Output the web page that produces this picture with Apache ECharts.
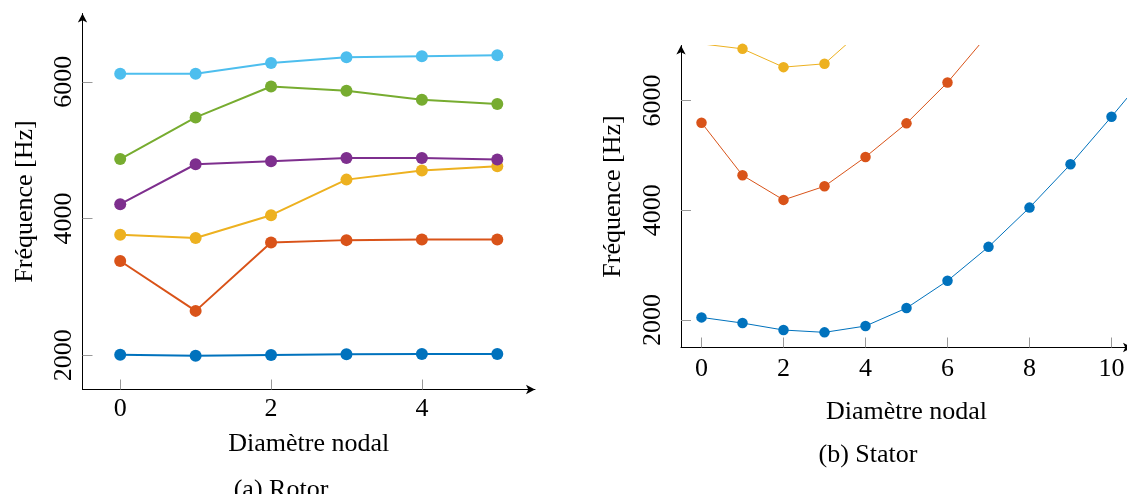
<!DOCTYPE html>
<html>
<head>
<meta charset="utf-8">
<script src="https://cdn.jsdelivr.net/npm/echarts@6/dist/echarts.min.js"></script>
<style>
html,body{margin:0;padding:0;background:#fff;overflow:hidden;}
#chart{width:1170px;height:494px;}
</style>
</head>
<body>
<div id="chart"></div>
<script>
// ---- Data ----
const rotorX = [0, 1, 2, 3, 4, 5];
const rotorBlue   = [2010, 1995, 2005, 2015, 2020, 2020];
const rotorOrange = [3380, 2650, 3650, 3685, 3695, 3695];
const rotorYellow = [3765, 3715, 4050, 4570, 4705, 4765];
const rotorPurple = [4210, 4795, 4840, 4888, 4888, 4865];
const rotorGreen  = [4870, 5480, 5932, 5870, 5740, 5675];
const rotorCyan   = [6120, 6120, 6277, 6360, 6375, 6390];

const statorX = [0, 1, 2, 3, 4, 5, 6, 7, 8, 9, 10, 11];
const statorBlue   = [2048, 1945, 1818, 1776, 1891, 2218, 2715, 3333, 4048, 4836, 5703, 6600];
const statorOrange = [5594, 4636, 4188, 4436, 4970, 5582, 6327, 7210];
const statorYellow = [7030, 6939, 6606, 6667, 7330];

const rotorXTicks = [0, 2, 4];
const statorXTicks = [0, 2, 4, 6, 8, 10];
const yTicks = [2000, 4000, 6000];

const xTitle = 'Diamètre nodal';
const yTitle = 'Fréquence [Hz]';
const captionA = '(a) Rotor';
const captionB = '(b) Stator';

const colors = {
  blue: '#0072BD', orange: '#D95319', yellow: '#EDB120',
  purple: '#7E2F8E', green: '#77AC30', cyan: '#4DBEEE'
};

const FONT = 'Liberation Serif';
const FS = 26;

function pair(xs, ys) { return ys.map((v, i) => [xs[i], v]); }

function mkSeries(idx, ys, xs, color, lw, sz) {
  return {
    type: 'line', xAxisIndex: idx, yAxisIndex: idx,
    data: pair(xs, ys),
    symbol: 'circle', symbolSize: sz, showSymbol: true,
    lineStyle: { color: color, width: lw },
    itemStyle: { color: color },
    clip: true, silent: true, animation: false
  };
}

function xAxis(idx, min, max, ticks, margin, nameGap) {
  return {
    type: 'value', gridIndex: idx, min: min, max: max,
    name: xTitle, nameLocation: 'middle', nameGap: nameGap,
    nameTextStyle: { fontFamily: FONT, fontSize: FS, color: '#000' },
    axisLine: { show: true, onZero: false, symbol: ['none', 'arrow'], symbolSize: [7, 9],
      lineStyle: { color: '#000', width: 1 } },
    axisTick: { show: true, inside: true, length: 10, customValues: ticks,
      lineStyle: { color: '#999', width: 1 } },
    axisLabel: { show: true, customValues: ticks, margin: margin,
      formatter: v => String(v),
      fontFamily: FONT, fontSize: FS, color: '#000' },
    splitLine: { show: false }
  };
}

function yAxis(idx, margin, nameGap) {
  return {
    type: 'value', gridIndex: idx, min: 1500, max: 7000,
    name: yTitle, nameLocation: 'middle', nameGap: nameGap,
    nameTextStyle: { fontFamily: FONT, fontSize: FS, color: '#000' },
    axisLine: { show: true, onZero: false, symbol: ['none', 'arrow'], symbolSize: [7, 9],
      lineStyle: { color: '#000', width: 1 } },
    axisTick: { show: true, inside: true, length: 10, customValues: yTicks,
      lineStyle: { color: '#999', width: 1 } },
    axisLabel: { show: true, customValues: yTicks, rotate: 90, margin: margin,
      formatter: v => String(v),
      fontFamily: FONT, fontSize: FS, color: '#000' },
    splitLine: { show: false }
  };
}

const chart = echarts.init(document.getElementById('chart'), null, { renderer: 'canvas' });
chart.setOption({
  backgroundColor: '#fff',
  animation: false,
  title: [
    { text: captionA, left: 276, top: 472, textAlign: 'center',
      textStyle: { fontFamily: FONT, fontSize: FS, fontWeight: 'normal', color: '#000' } },
    { text: captionB, left: 863, top: 437, textAlign: 'center',
      textStyle: { fontFamily: FONT, fontSize: FS, fontWeight: 'normal', color: '#000' } }
  ],
  grid: [
    { left: 82.5, top: 13.5, width: 452.5, height: 376 },
    { left: 681, top: 45.5, width: 451, height: 302 }
  ],
  xAxis: [
    xAxis(0, -0.5, 5.5, rotorXTicks, 7, 42),
    xAxis(1, -0.5, 10.5, statorXTicks, 9, 52)
  ],
  yAxis: [
    yAxis(0, 5, 44),
    yAxis(1, 15, 55)
  ],
  series: [
    mkSeries(0, rotorBlue, rotorX, colors.blue, 2, 12),
    mkSeries(0, rotorOrange, rotorX, colors.orange, 2, 12),
    mkSeries(0, rotorYellow, rotorX, colors.yellow, 2, 12),
    mkSeries(0, rotorPurple, rotorX, colors.purple, 2, 12),
    mkSeries(0, rotorGreen, rotorX, colors.green, 2, 12),
    mkSeries(0, rotorCyan, rotorX, colors.cyan, 2, 12),
    mkSeries(1, statorBlue, statorX, colors.blue, 1, 10.5),
    mkSeries(1, statorOrange, statorX, colors.orange, 1, 10.5),
    mkSeries(1, statorYellow, statorX, colors.yellow, 1, 10.5)
  ]
});
</script>
</body>
</html>
